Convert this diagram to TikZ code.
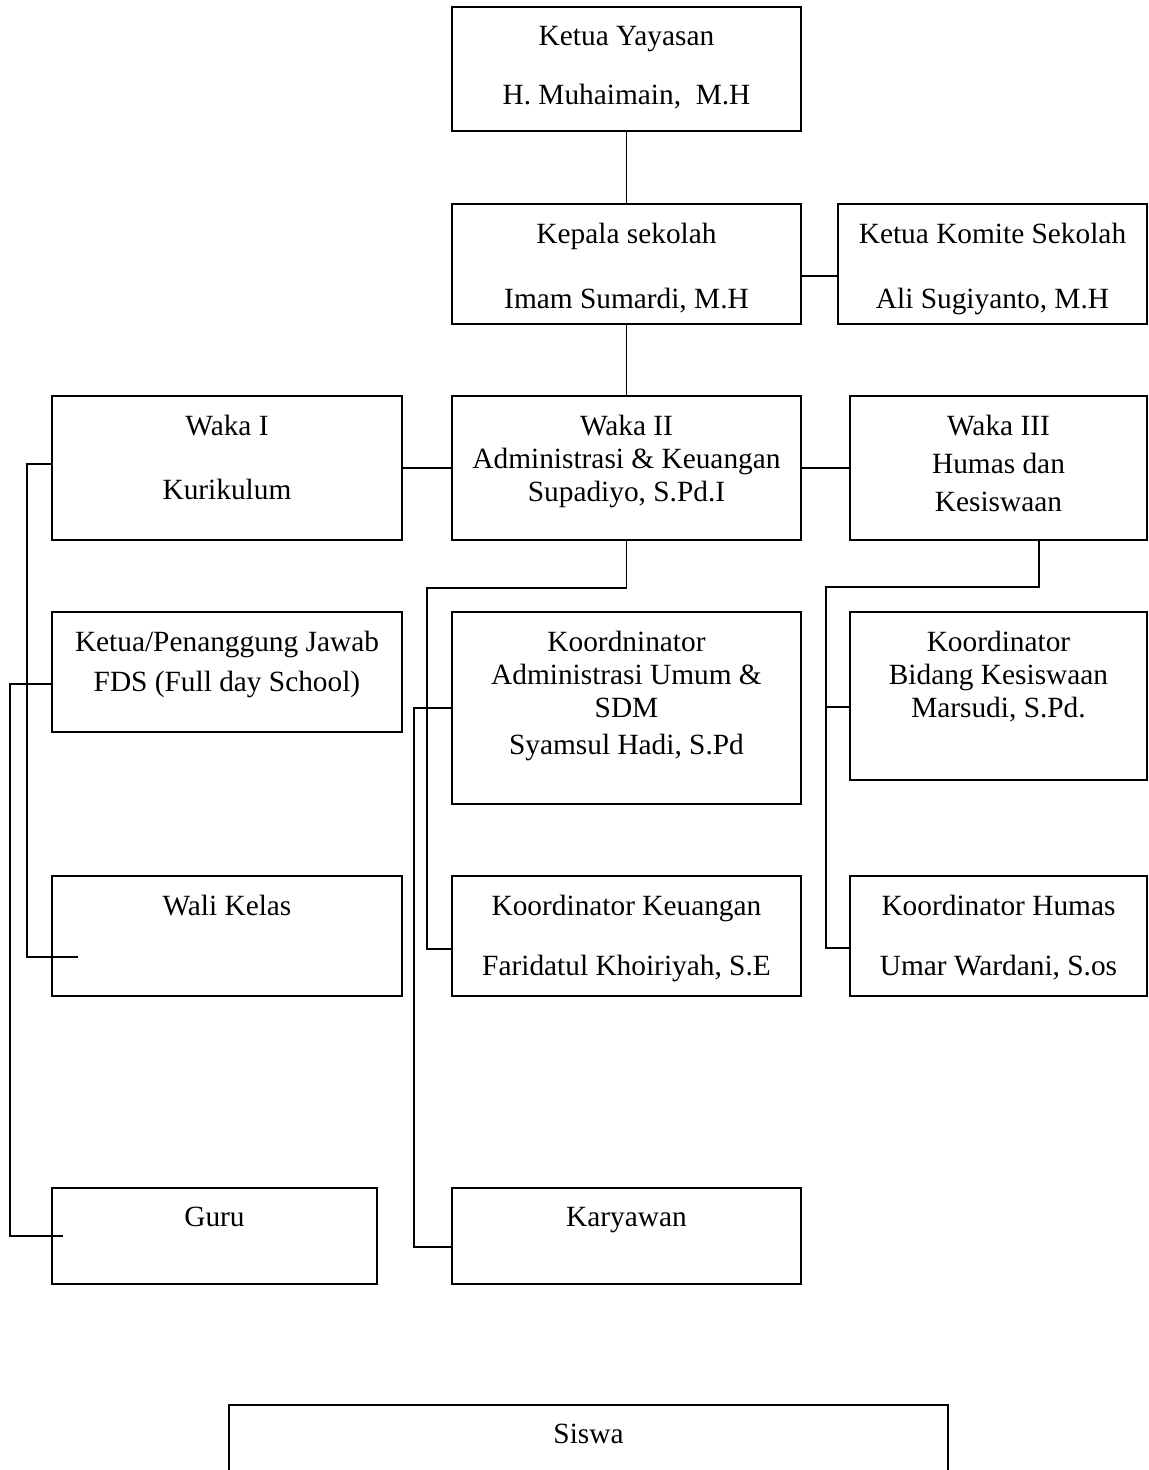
\documentclass[tikz,border=0pt]{standalone}
\usepackage{fontspec}
\setmainfont{Liberation Serif}
\usetikzlibrary{positioning}
\tikzset{
	orgbox/.style 2 args={
		draw,
		line width=1pt,
		inner sep=0pt,
		outer sep=0pt,
		font=\fontsize{16.7}{18.8}\selectfont,
		execute at begin node={\begin{minipage}[c][#2][t]{#1}\centering\vspace*{11pt}},
		execute at end node={\end{minipage}},
	},
	link/.append style={
		line width=1pt,
	},
}

\begin{document}
\begin{tikzpicture}

	\useasboundingbox (0,0) rectangle (22.98,-29.4);

	\node (yayasan)[orgbox={6.98cm}{2.48cm}, anchor=north west] at (9.04,-0.14) {Ketua Yayasan\\[15pt] H. Muhaimain,\ \ M.H};
	\node (kepsek)[orgbox={6.98cm}{2.4cm}, below=1.46cm of yayasan] {Kepala sekolah\\[18pt] Imam Sumardi, M.H};
	\node (komite)[orgbox={6.18cm}{2.4cm}, right=0.74cm of kepsek] {Ketua Komite Sekolah\\[18pt] Ali Sugiyanto, M.H};

	\node (waka2)[orgbox={6.98cm}{2.88cm}, below=1.44cm of kepsek] {Waka II\\ Administrasi \& Keuangan\\ Supadiyo, S.Pd.I};
	\node (waka1)[orgbox={7cm}{2.88cm}, left=1cm of waka2] {Waka I\\[17.5pt] Kurikulum};
	\node (waka3)[orgbox={5.94cm}{2.88cm}, right=0.98cm of waka2] {Waka III\\[2.7pt] Humas dan\\[2.7pt] Kesiswaan};

	\node (pj)[orgbox={7cm}{2.4cm}, below=1.44cm of waka1] {Ketua/Penanggung Jawab\\[4pt] FDS (Full day School)};
	\node (wali)[orgbox={7cm}{2.4cm}, below=2.88cm of pj] {Wali Kelas};
	\node (guru)[orgbox={6.5cm}{1.92cm}, below=3.84cm of wali.south west, anchor=north west] {Guru};

	\node (adm)[orgbox={6.98cm}{3.84cm}, below=1.44cm of waka2] {Koordninator\\ Administrasi Umum \&\\ SDM\\[2pt] Syamsul Hadi, S.Pd};
	\node (keu)[orgbox={6.98cm}{2.4cm}, below=1.44cm of adm] {Koordinator Keuangan\\[15pt] Faridatul Khoiriyah, S.E};
	\node (karyawan)[orgbox={6.98cm}{1.92cm}, below=3.84cm of keu] {Karyawan};

	\node (bidang)[orgbox={5.94cm}{3.36cm}, below=1.44cm of waka3] {Koordinator\\ Bidang Kesiswaan\\ Marsudi, S.Pd.};
	\node (humas)[orgbox={5.94cm}{2.4cm}, below=1.92cm of bidang] {Koordinator Humas\\[15pt] Umar Wardani, S.os};

	\node (siswa)[orgbox={14.38cm}{2cm}, below=2.42cm of karyawan, xshift=-0.76cm] {Siswa};

	% top part
	\draw[link] (yayasan) -- (kepsek);
	\draw[link] ([yshift=-0.24cm]kepsek.east) -- ([yshift=-0.24cm]komite.west);
	\draw[link] (kepsek) -- (waka2);
	\draw[link] (waka1) -- (waka2);
	\draw[link] (waka2) -- (waka3);

	% left column
	\draw[link] ([yshift=0.08cm]waka1.west) -- ++(-0.5,0) |- ([xshift=0.52cm, yshift=-0.42cm]wali.west);
	\draw[link] ([yshift=-0.24cm]pj.west) -- ++(-0.84,0) |- ([xshift=0.22cm]guru.west);

	% middle column
	\draw[link] (waka2.south) -- ++(0,-0.96) -| ([xshift=-0.5cm, yshift=-0.26cm]keu.west) -- ([yshift=-0.26cm]keu.west);
	\draw[link] (adm.west) -- ++(-0.76,0) |- ([yshift=-0.22cm]karyawan.west);

	% right column
	\draw[link] ([xshift=0.81cm]waka3.south) -- ++(0,-0.94) -| ([xshift=-0.48cm, yshift=-0.24cm]humas.west) -- ([yshift=-0.24cm]humas.west);
	\draw[link] ([yshift=-0.22cm]bidang.west) -- ++(-0.48,0);

\end{tikzpicture}
\end{document}
